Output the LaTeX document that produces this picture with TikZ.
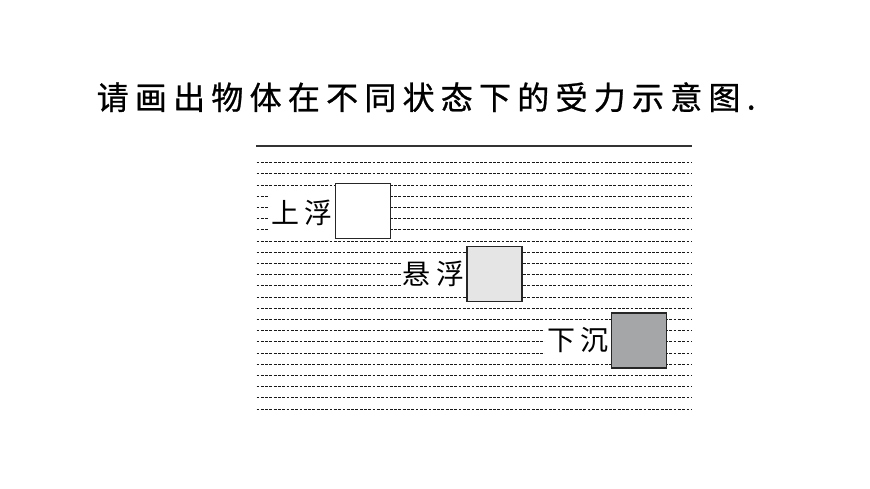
\documentclass[tikz,border=0pt]{standalone}
\usepackage{fontspec}
\usepackage{tikz}
\setmainfont{Noto Sans CJK SC}
\newfontfamily\titlefont[LetterSpace=19.5, FakeBold=0.8]{Noto Sans CJK SC}
\newfontfamily\statefont[LetterSpace=20]{Noto Sans CJK SC}
\definecolor{hoverGray}{HTML}{E5E5E5}
\definecolor{sinkGray}{HTML}{A5A6A8}
\tikzset{
  ruleline/.style={line width=1pt, black!90, dash pattern=on 2.8pt off 1.5pt},
  objbox/.style={rectangle, draw=black!85, line width=1.2pt, minimum size=55pt, inner sep=0pt},
  statetext/.style={fill=white, inner xsep=2pt, inner ysep=0pt, minimum height=36pt, anchor=east, font=\statefont\fontsize{28pt}{30pt}\selectfont}
}

\begin{document}
\begin{tikzpicture}[x=1pt, y=-1pt]
                \useasboundingbox (0, 0) rectangle (870, 489);

                % Title
                \node[anchor=base west, inner sep=0pt, font=\titlefont\fontsize{32pt}{34pt}\selectfont] (title) at (96.5, 109.5) {请画出物体在不同状态下的受力示意图.};

                % Ruled paper
                \draw[line width=1.3pt, black!80] (256, 146) -- (692, 146);
                \foreach \k in {0,...,22}
                    \draw[ruleline] (256.5, 162.7 + 11.2*\k) -- (691.5, 162.7 + 11.2*\k);

                % Objects
                \node[objbox, fill=white] (up) at (363, 211) {};
                \node[objbox, fill=hoverGray] (hover) at (494.5, 274) {};
                \node[objbox, fill=sinkGray] (sink) at (639, 340.5) {};

                % States
                \node[statetext, yshift=-2pt] (upText) at (up.west) {上浮};
                \node[statetext] (hoverText) at (hover.west) {悬浮};
                \node[statetext] (sinkText) at (sink.west) {下沉};
            \end{tikzpicture}
\end{document}
